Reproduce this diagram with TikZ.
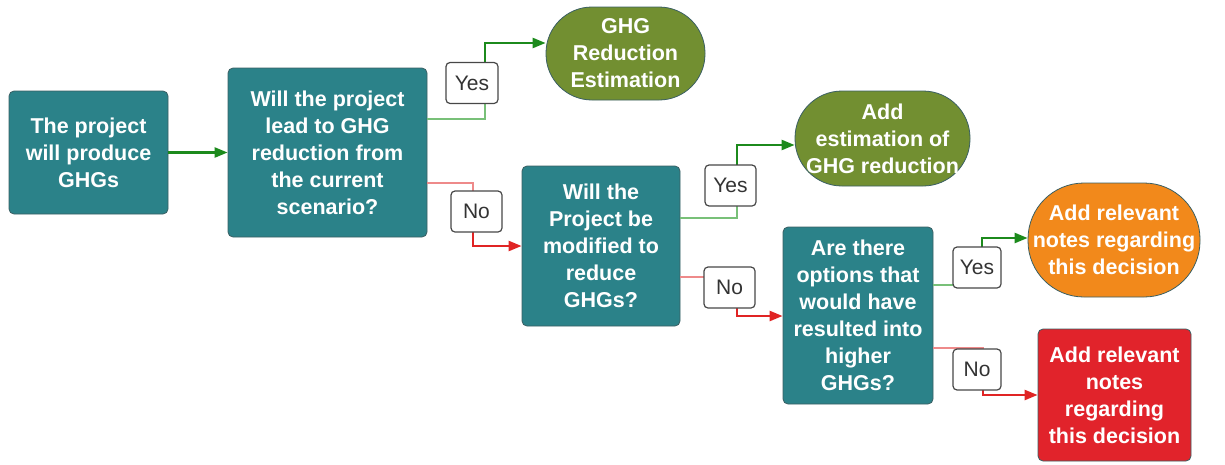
\documentclass[tikz,border=0pt]{standalone}
\usepackage{fontspec}
\setmainfont{Liberation Sans}
\usetikzlibrary{arrows.meta}
\definecolor{teal1}{HTML}{2B8289}
\definecolor{tealedge}{HTML}{3A5F63}
\definecolor{olive1}{HTML}{728F31}
\definecolor{orange1}{HTML}{F2891B}
\definecolor{red1}{HTML}{E1232B}
\definecolor{gdark}{HTML}{1C8A1C}
\definecolor{glight}{HTML}{78C078}
\definecolor{rdark}{HTML}{E02424}
\definecolor{rlight}{HTML}{EE8A8A}
\definecolor{lbltext}{HTML}{333333}
\tikzset{
  box/.style={draw=tealedge, line width=0.8pt, text=white, align=center,
    inner sep=0pt, font=\fontsize{21.5}{27}\selectfont\bfseries},
  decision/.style={box, fill=teal1, rounded corners=5pt},
  endcap/.style={box, rounded corners=#1},
  lbl/.style={draw=lbltext!90, fill=white, line width=1.2pt, rounded corners=4pt,
    text=lbltext, inner sep=0pt, minimum height=41pt,
    font=\fontsize{21}{25}\selectfont},
  tip/.style={-{Triangle[length=13pt,width=10pt]}},
  gthin/.style={draw=glight, line width=1.3pt},
  gthick/.style={draw=gdark, line width=2.4pt, tip},
  rthin/.style={draw=rlight, line width=1.3pt},
  rthick/.style={draw=rdark, line width=2.4pt, tip},
}
\begin{document}
\begin{tikzpicture}[x=1pt,y=-1pt]
\useasboundingbox (0,0) rectangle (1225,464);

% process and decision boxes
\node[decision, minimum width=159pt, minimum height=123pt] (n1) at (88.5,152.5)
  {The project\\will produce\\GHGs};
\node[decision, minimum width=199pt, minimum height=169pt] (n2) at (327.5,152.5)
  {Will the project\\lead to GHG\\reduction from\\the current\\scenario?};
\node[decision, minimum width=158pt, minimum height=160pt] (n5) at (601,246)
  {Will the\\Project be\\modified to\\reduce\\GHGs?};
\node[decision, minimum width=150pt, minimum height=177pt] (n6) at (858,315.5)
  {Are there\\options that\\would have\\resulted into\\higher\\GHGs?};

% outcomes
\node[endcap=46pt, fill=olive1, minimum width=159pt, minimum height=93pt] (n3) at (625.5,53.5)
  {GHG\\Reduction\\Estimation};
\node[endcap=47pt, fill=olive1, minimum width=175pt, minimum height=95pt] (n4) at (882.5,138.5)
  {Add\\estimation of\\GHG reduction};
\node[endcap=56pt, fill=orange1, minimum width=172pt, minimum height=114pt] (n7) at (1114,240)
  {Add relevant\\notes regarding\\this decision};
\node[endcap=5pt, fill=red1, minimum width=153pt, minimum height=132pt] (n8) at (1114.5,395)
  {Add relevant\\notes\\regarding\\this decision};

% bend points under the answer labels
\coordinate (b1) at (485,83);
\coordinate (b2) at (473,211);
\coordinate (b3) at (737,185);
\coordinate (b4) at (737,287);
\coordinate (b5) at (982,267);
\coordinate (b6) at (983,369);

% connectors
\draw[gthick] (n1.east) -- (n2.west);
\draw[gthin] ([yshift=33.5pt]n2.east) -| (b1);
\draw[gthick] (b1) |- ([yshift=10.5pt]n3.west);
\draw[rthin] ([yshift=-30.5pt]n2.east) -| (b2);
\draw[rthick] (b2) |- (n5.west);
\draw[gthin] ([yshift=28pt]n5.east) -| (b3);
\draw[gthick] (b3) |- ([yshift=-6.5pt]n4.west);
\draw[rthin] ([yshift=-31pt]n5.east) -| (b4);
\draw[rthick] (b4) |- ([yshift=-0.5pt]n6.west);
\draw[gthin] ([yshift=30.5pt]n6.east) -| (b5);
\draw[gthick] (b5) |- ([yshift=2pt]n7.west);
\draw[rthin] ([yshift=-32.5pt]n6.east) -| (b6);
\draw[rthick] (b6) |- (n8.west);

% answer labels
\node[lbl, minimum width=52pt] (l1) at (472,83) {Yes};
\node[lbl, minimum width=51pt] (l2) at (476.5,211.5) {No};
\node[lbl, minimum width=51pt] (l3) at (730.5,185.5) {Yes};
\node[lbl, minimum width=51pt] (l4) at (729.5,287.5) {No};
\node[lbl, minimum width=48pt] (l5) at (977,267.5) {Yes};
\node[lbl, minimum width=48pt] (l6) at (977,369.5) {No};
\end{tikzpicture}
\end{document}
